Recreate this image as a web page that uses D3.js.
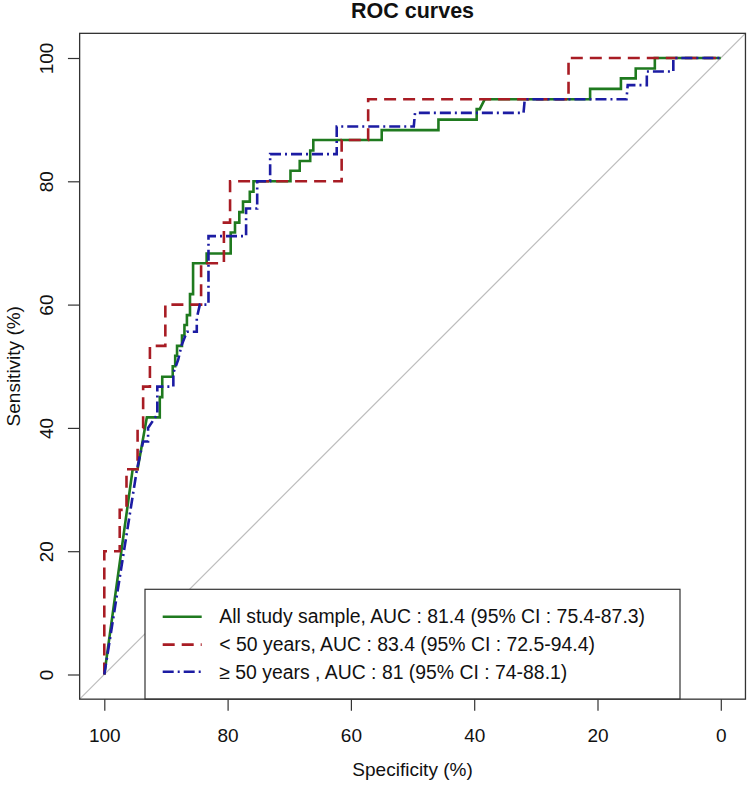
<!DOCTYPE html>
<html>
<head>
<meta charset="utf-8">
<script src="https://cdn.jsdelivr.net/npm/d3@7"></script>
<style>
  html, body { margin: 0; padding: 0; background: #fff; }
  svg { display: block; font-family: "Liberation Sans", Arial, sans-serif; }
</style>
</head>
<body>
<svg id="chart" width="749" height="787"></svg>
<script>
// ---- data (specificity %, sensitivity %) ----
const seriesNames = ["All study sample, AUC : 81.4 (95% CI : 75.4-87.3)",
                     "< 50 years, AUC : 83.4 (95% CI : 72.5-94.4)",
                     "\u2265 50 years , AUC : 81 (95% CI : 74-88.1)"];
const allSpec = [100, 95.4, 94.6, 93.1, 91.0, 91.0, 90.6, 90.6, 88.9, 88.9, 88.5, 88.5, 88.2, 88.2, 87.4, 87.4, 87.0, 87.0, 86.6, 86.6, 86.1, 86.1, 85.6, 85.6, 83.4, 83.4, 79.5, 79.5, 78.8, 78.8, 78.1, 78.1, 77.5, 77.5, 76.4, 76.4, 75.8, 75.8, 69.8, 69.8, 68.3, 68.3, 66.6, 66.6, 66.1, 66.1, 55.0, 55.0, 45.8, 45.8, 39.6, 39.6, 39.1, 38.3, 21.2, 21.2, 16.2, 16.2, 13.8, 13.8, 10.7, 10.7, 0];
const allSens = [0, 33.3, 33.3, 41.7, 41.7, 45.0, 45.0, 48.3, 48.3, 50.0, 50.0, 51.7, 51.7, 53.3, 53.3, 55.0, 55.0, 56.7, 56.7, 58.3, 58.3, 61.7, 61.7, 66.7, 66.7, 68.3, 68.3, 71.7, 71.7, 73.3, 73.3, 75.0, 75.0, 76.7, 76.7, 78.3, 78.3, 80.0, 80.0, 81.7, 81.7, 83.3, 83.3, 85.0, 85.0, 86.7, 86.7, 88.3, 88.3, 90.0, 90.0, 91.7, 91.7, 93.3, 93.3, 95.0, 95.0, 96.7, 96.7, 98.3, 98.3, 100, 100];
const youngSpec = [100, 100, 97.5, 97.5, 96.4, 96.4, 94.6, 94.6, 93.7, 93.7, 92.6, 92.6, 90.1, 90.1, 84.3, 84.3, 80.6, 80.6, 79.6, 79.6, 61.5, 61.5, 57.2, 57.2, 24.7, 24.7, 0];
const youngSens = [0, 20.0, 20.0, 26.7, 26.7, 33.3, 33.3, 40.0, 40.0, 46.7, 46.7, 53.3, 53.3, 60.0, 60.0, 66.7, 66.7, 73.3, 73.3, 80.0, 80.0, 86.7, 86.7, 93.3, 93.3, 100, 100];
const oldSpec = [100, 94.7, 93.7, 92.9, 92.9, 91.4, 91.4, 88.8, 88.8, 88.0, 87.5, 86.6, 85.0, 85.0, 84.5, 83.1, 83.1, 77.0, 77.0, 75.2, 75.2, 73.1, 73.1, 62.3, 62.3, 49.8, 49.6, 32.0, 31.8, 15.3, 15.1, 12.0, 12.0, 7.7, 7.7, 0];
const oldSens = [0, 33.3, 37.8, 37.8, 40.0, 42.2, 46.7, 46.7, 48.9, 51.1, 53.3, 55.6, 55.6, 57.8, 60.0, 60.0, 71.1, 71.1, 75.6, 75.6, 80.0, 80.0, 84.4, 84.4, 88.9, 88.9, 91.1, 91.1, 93.3, 93.3, 95.6, 95.6, 97.8, 97.8, 100, 100];
const tickValues = [100, 80, 60, 40, 20, 0];
const yTickValues = [0, 20, 40, 60, 80, 100];
const colors = ["#1f7a1f", "#a81c24", "#1c1ca3"];
const dashes = [null, "12,7", "11,4,2,4"];

// ---- layout ----
const svg = d3.select("#chart");
const x = d3.scaleLinear().domain([100, 0]).range([104.3, 720.8]);
const y = d3.scaleLinear().domain([0, 100]).range([674.5, 58]);
const L = x(104), R = x(-4), T = y(104), B = y(-4);
const axisColor = "#333";
const fs = 19;
const lfs = 19.4;

svg.append("defs").append("clipPath").attr("id", "clip")
  .append("rect").attr("x", L).attr("y", T).attr("width", R - L).attr("height", B - T);

// diagonal reference line
svg.append("line").attr("clip-path", "url(#clip)")
  .attr("x1", x(104)).attr("y1", y(-4)).attr("x2", x(-4)).attr("y2", y(104))
  .attr("stroke", "#bdbdbd").attr("stroke-width", 1.2);

// curves
const series = [
  allSpec.map((s, i) => [s, allSens[i]]),
  youngSpec.map((s, i) => [s, youngSens[i]]),
  oldSpec.map((s, i) => [s, oldSens[i]])
];
const line = d3.line().x(d => x(d[0])).y(d => y(d[1]));
series.forEach((pts, i) => {
  svg.append("path").attr("clip-path", "url(#clip)")
    .attr("d", line(pts)).attr("fill", "none")
    .attr("stroke", colors[i]).attr("stroke-width", 2.6)
    .attr("stroke-dasharray", dashes[i]);
});

// axes
const xAxis = svg.append("g").attr("transform", `translate(0,${B})`)
  .call(d3.axisBottom(x).tickValues(tickValues).tickSize(11.7).tickPadding(17.5).tickFormat(d3.format("d")));
xAxis.select(".domain").remove();
xAxis.selectAll("line").attr("stroke", axisColor).attr("stroke-width", 1.2);
xAxis.selectAll("text").attr("font-size", fs).attr("fill", "#111").attr("font-family", "Liberation Sans, Arial, sans-serif");

const yAxis = svg.append("g").attr("transform", `translate(${L},0)`)
  .call(d3.axisLeft(y).tickValues(yTickValues).tickSize(11.7).tickFormat(d3.format("d")));
yAxis.select(".domain").remove();
yAxis.selectAll("line").attr("stroke", axisColor).attr("stroke-width", 1.2);
yAxis.selectAll("text")
  .attr("x", null).attr("dy", null)
  .attr("transform", "translate(-26.3,0) rotate(-90)")
  .attr("text-anchor", "middle")
  .attr("font-size", fs).attr("fill", "#111").attr("font-family", "Liberation Sans, Arial, sans-serif");

// legend
const lg = svg.append("g");
lg.append("rect").attr("x", 145).attr("y", 589.3).attr("width", 680 - 145).attr("height", B - 589.3)
  .attr("fill", "#fff").attr("stroke", axisColor).attr("stroke-width", 1.2);
const rowY = [616.7, 644.6, 671.8];
seriesNames.forEach((name, i) => {
  lg.append("line").attr("x1", 162.7).attr("x2", 201.7).attr("y1", rowY[i]).attr("y2", rowY[i])
    .attr("stroke", colors[i]).attr("stroke-width", 2.6).attr("stroke-dasharray", dashes[i]);
  lg.append("text").attr("x", 219.3).attr("y", rowY[i]).attr("dy", "0.35em")
    .attr("font-size", lfs).attr("fill", "#111").text(name);
});

// box
svg.append("rect").attr("x", L).attr("y", T).attr("width", R - L).attr("height", B - T)
  .attr("fill", "none").attr("stroke", axisColor).attr("stroke-width", 1.3);

// titles
svg.append("text").attr("x", (L + R) / 2).attr("y", 18).attr("text-anchor", "middle")
  .attr("font-size", 21.5).attr("font-weight", "bold").attr("fill", "#111").text("ROC curves");
svg.append("text").attr("x", (L + R) / 2).attr("y", 776).attr("text-anchor", "middle")
  .attr("font-size", fs).attr("fill", "#111").text("Specificity (%)");
svg.append("text").attr("transform", `translate(19.5,${(T + B) / 2}) rotate(-90)`).attr("text-anchor", "middle")
  .attr("font-size", fs).attr("fill", "#111").text("Sensitivity (%)");
</script>
</body>
</html>
